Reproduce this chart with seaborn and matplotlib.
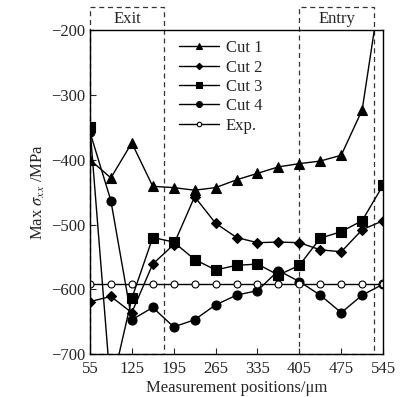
import seaborn as sns
import matplotlib.pyplot as plt
import matplotlib.patches as mpatches
import pandas as pd

positions = [55, 90, 125, 160, 195, 230, 265, 300, 335, 370, 405, 440, 475, 510, 545]
cut1 = [-400, -428, -374, -441, -443, -447, -443, -431, -421, -411, -406, -402, -393, -323, -110]
cut2 = [-619, -611, -636, -561, -531, -457, -498, -520, -528, -527, -528, -539, -542, -508, -494]
cut3 = [-349, -755, -614, -520, -527, -554, -570, -563, -561, -578, -563, -521, -511, -494, -439]
cut4 = [-357, -463, -647, -628, -658, -647, -624, -609, -602, -571, -588, -609, -636, -609, -592]
exp_vals = [-591] * 15
series_names = ["Cut 1", "Cut 2", "Cut 3", "Cut 4", "Exp."]
x_ticks = [55, 125, 195, 265, 335, 405, 475, 545]
y_ticks = [-700, -600, -500, -400, -300, -200]

sns.set_style("ticks")
plt.rcParams["font.family"] = ["Liberation Serif", "DejaVu Serif"]
plt.rcParams["mathtext.fontset"] = "stix"
plt.rcParams["xtick.direction"] = "in"
plt.rcParams["ytick.direction"] = "in"

fig = plt.figure(figsize=(4.05, 3.97), dpi=100)
ax = fig.add_axes([0.222, 0.108, 0.724, 0.816])

styles = {
    "Cut 1": dict(marker="^", markersize=7, markerfacecolor="black"),
    "Cut 2": dict(marker="D", markersize=5, markerfacecolor="black"),
    "Cut 3": dict(marker="s", markersize=6.5, markerfacecolor="black"),
    "Cut 4": dict(marker="o", markersize=6.5, markerfacecolor="black"),
    "Exp.": dict(marker="o", markersize=5, markerfacecolor="white"),
}

for name, vals in zip(series_names, [cut1, cut2, cut3, cut4, exp_vals]):
    df = pd.DataFrame({"pos": positions, "val": vals})
    sns.lineplot(data=df, x="pos", y="val", ax=ax, color="black", linewidth=1,
                 markeredgecolor="black", markeredgewidth=0.8, label=name,
                 **styles[name])

# Exit / Entry dashed boxes
for x0, x1, txt in [(55, 179, "Exit"), (405, 530, "Entry")]:
    rect = mpatches.Rectangle((x0, -700), x1 - x0, 535, fill=False,
                              linestyle=(0, (4, 3)), linewidth=0.9,
                              edgecolor="#333333", clip_on=False, zorder=1)
    ax.add_patch(rect)
    ax.text((x0 + x1) / 2, -183, txt, ha="center", va="center", fontsize=12,
            clip_on=False)

ax.set_xlim(55, 545)
ax.set_ylim(-700, -200)
ax.set_xticks(x_ticks)
ax.set_yticks(y_ticks)
ax.set_yticklabels([f"\u2212{abs(v)}" for v in y_ticks])
ax.tick_params(labelsize=12, length=4, width=0.8, top=False, right=False)
ax.tick_params(axis="x", pad=5)
ax.tick_params(axis="y", pad=3)
for s in ax.spines.values():
    s.set_linewidth(1)
    s.set_color("black")

ax.set_xlabel("Measurement positions/\u03bcm", fontsize=12, labelpad=2)
ax.set_ylabel(r"Max $\sigma_{xx}$ /MPa", fontsize=12, labelpad=3)

ax.legend(loc="upper left", bbox_to_anchor=(0.27, 1.0), frameon=False,
          fontsize=12, handlelength=2.4, handletextpad=0.4, labelspacing=0.2,
          borderaxespad=0.2, markerscale=0.65)

plt.savefig("out.png", dpi=100)
